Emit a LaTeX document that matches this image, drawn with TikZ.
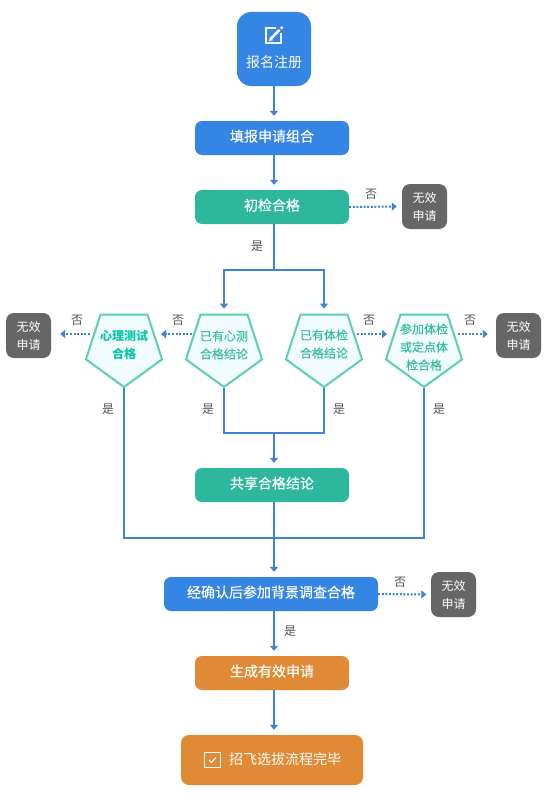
\documentclass[tikz,border=0pt]{standalone}
\usepackage{fontspec}
\setmainfont{Noto Sans CJK SC}
\newfontfamily\medf[FakeBold=0.25]{Noto Sans CJK SC}
\usetikzlibrary{arrows.meta,shapes.geometric}
\definecolor{cblue}{HTML}{3585E5}
\definecolor{cgreen}{HTML}{2DB89E}
\definecolor{corange}{HTML}{E08A35}
\definecolor{cgrey}{HTML}{666666}
\definecolor{cline}{HTML}{3D84D6}
\definecolor{cpenta}{HTML}{5BCFB0}
\definecolor{cpfill}{HTML}{F0FCFD}
\definecolor{cptext}{HTML}{3DBB9E}
\definecolor{cpbold}{HTML}{0AC5A5}
\definecolor{clabel}{HTML}{555555}
\newcommand{\fsbig}{\fontsize{14}{18}\selectfont\medf}
\newcommand{\fssmall}{\fontsize{12}{18}\selectfont}
\newcommand{\fsmed}{\fontsize{12}{18}\selectfont\medf}
\tikzset{
  flowbox/.style={rectangle,rounded corners=7pt,inner sep=0pt,minimum height=34pt,minimum width=154pt,text=white,font=\fsbig,text height=12pt,text depth=5pt},
  nobox/.style={rectangle,rounded corners=8pt,inner sep=0pt,minimum width=45pt,minimum height=45pt,fill=cgrey,text=white,font=\fssmall,align=center},
  penta/.style={regular polygon,regular polygon sides=5,shape border rotate=180,minimum size=80pt,inner sep=0pt,draw=cpenta,line width=2pt,fill=cpfill},
  ptext/.style={inner sep=0pt,align=center,text=cptext,font=\fsmed},
  flow/.style={draw=cline,line width=2pt,-{Triangle[width=8pt,length=5pt]},shorten >=5pt},
  plainflow/.style={draw=cline,line width=2pt},
  dotflow/.style={draw=cline,line width=2pt,dash pattern=on 2pt off 1.6pt,-{Triangle[width=8pt,length=5pt]}},
  yn/.style={inner sep=0pt,text=clabel,font=\fssmall},
  icon/.style={draw=white,line width=1.6pt}
}
\begin{document}
\begin{tikzpicture}[x=1pt,y=-1pt]
\fill[white] (0,0) rectangle (550,800);
\useasboundingbox (0,0) rectangle (550,800);
% boxes
\node[flowbox,fill=cblue,minimum width=74pt,minimum height=74pt,rounded corners=14pt] (reg) at (274,49) {};
\node[inner sep=0pt,text=white,font=\fontsize{14}{18}\selectfont] (regt) at (274,62) {报名注册};
\node[flowbox,fill=cblue] (fill) at (272,138) {填报申请组合};
\node[flowbox,fill=cgreen] (chk) at (272,207) {初检合格};
\node[nobox] (n1) at (424.5,206.5) {无效\\申请};
\node[penta] (p1) at (124,347) {};
\node[penta] (p2) at (224,347) {};
\node[penta] (p3) at (324,347) {};
\node[penta] (p4) at (424,347) {};
\node[ptext,text=cpbold,font=\fontsize{12}{18}\selectfont\bfseries] (t1) at (124,345) {心理测试\\合格};
\node[ptext] (t2) at (224,345) {已有心测\\合格结论};
\node[ptext] (t3) at (324,344) {已有体检\\合格结论};
\node[ptext] (t4) at (424,347) {参加体检\\或定点体\\检合格};
\node[nobox] (n2) at (28.5,335.5) {无效\\申请};
\node[nobox] (n3) at (518.5,335.5) {无效\\申请};
\node[flowbox,fill=cgreen] (share) at (272,485) {共享合格结论};
\node[flowbox,fill=cblue,minimum width=214pt] (conf) at (271,594) {经确认后参加背景调查合格};
\node[nobox] (n4) at (453.5,594.5) {无效\\申请};
\node[flowbox,fill=corange] (gen) at (272,673) {生成有效申请};
\node[flowbox,fill=corange,minimum width=182pt,minimum height=50pt,rounded corners=8pt] (end) at (272,760) {};
\node[inner sep=0pt,text=white,font=\fontsize{14}{18}\selectfont] (endt) at (285,759.5) {招飞选拔流程完毕};
% junctions on the main axis
\coordinate (j1) at (reg.south |- 0,270);
\coordinate (j2) at (reg.south |- 0,433);
\coordinate (j3) at (reg.south |- 0,538);
% connectors
\draw[flow] (reg.south) -- (reg.south |- fill.north);
\draw[flow] (reg.south |- fill.south) -- (reg.south |- chk.north);
\draw[plainflow] (reg.south |- chk.south) -- (j1);
\draw[flow] (j1) -| (p2.north);
\draw[flow] (j1) -| (p3.north);
\draw[plainflow] (p2.south) |- (j2);
\draw[plainflow] (p3.south) |- (j2);
\draw[flow] (j2) -- (reg.south |- share.north);
\draw[plainflow] (p1.south) |- (j3);
\draw[plainflow] (p4.south) |- (j3);
\draw[plainflow] (reg.south |- share.south) -- (j3);
\draw[flow] (j3) -- (reg.south |- conf.north);
\draw[flow] (reg.south |- conf.south) -- (reg.south |- gen.north);
\draw[flow] (reg.south |- gen.south) -- (reg.south |- end.north);
% dotted
\draw[dotflow,shorten >=5pt] (chk.east) -- (n1.west);
\draw[dotflow] ([xshift=-32pt,yshift=13pt]p2.center) -- ([xshift=37pt,yshift=13pt]p1.center);
\draw[dotflow] ([xshift=-34pt,yshift=13pt]p1.center) -- ([xshift=9pt,yshift=1.5pt]n2.east);
\draw[dotflow] ([xshift=33pt,yshift=13pt]p3.center) -- ([xshift=-37pt,yshift=13pt]p4.center);
\draw[dotflow] ([xshift=34pt,yshift=13pt]p4.center) -- ([xshift=-8pt,yshift=1.5pt]n3.west);
\draw[dotflow,shorten >=4.5pt] (conf.east) -- (n4.west);
% labels
\node[yn] (y1) at (371,194) {否};
\node[yn] (y2) at (257,246) {是};
\node[yn] (y3) at (77,320) {否};
\node[yn] (y4) at (178,320) {否};
\node[yn] (y5) at (369,320) {否};
\node[yn] (y6) at (470,320) {否};
\node[yn] (y7) at (108,409) {是};
\node[yn] (y8) at (208,409) {是};
\node[yn] (y9) at (339,409) {是};
\node[yn] (y10) at (439,409) {是};
\node[yn] (y11) at (400,582) {否};
\node[yn] (y12) at (290,631) {是};
% edit icon
\draw[icon] (276,27.8) -- (265.8,27.8) -- (265.8,43) -- (281,43) -- (281,33);
\draw[white,line width=2.8pt] (271,38.5) -- (279.5,30);
\fill[white] (269,41) -- (269.8,37) -- (273.2,40.2) -- cycle;
\fill[white] (281.7,27.8) circle (1.7pt);
% check icon
\draw[white,line width=1.4pt] (204.5,752.5) rectangle (220.5,767.5);
\draw[white,line width=1.2pt] (209,760) -- (211.5,762.5) -- (216,757.5);
\end{tikzpicture}
\end{document}
